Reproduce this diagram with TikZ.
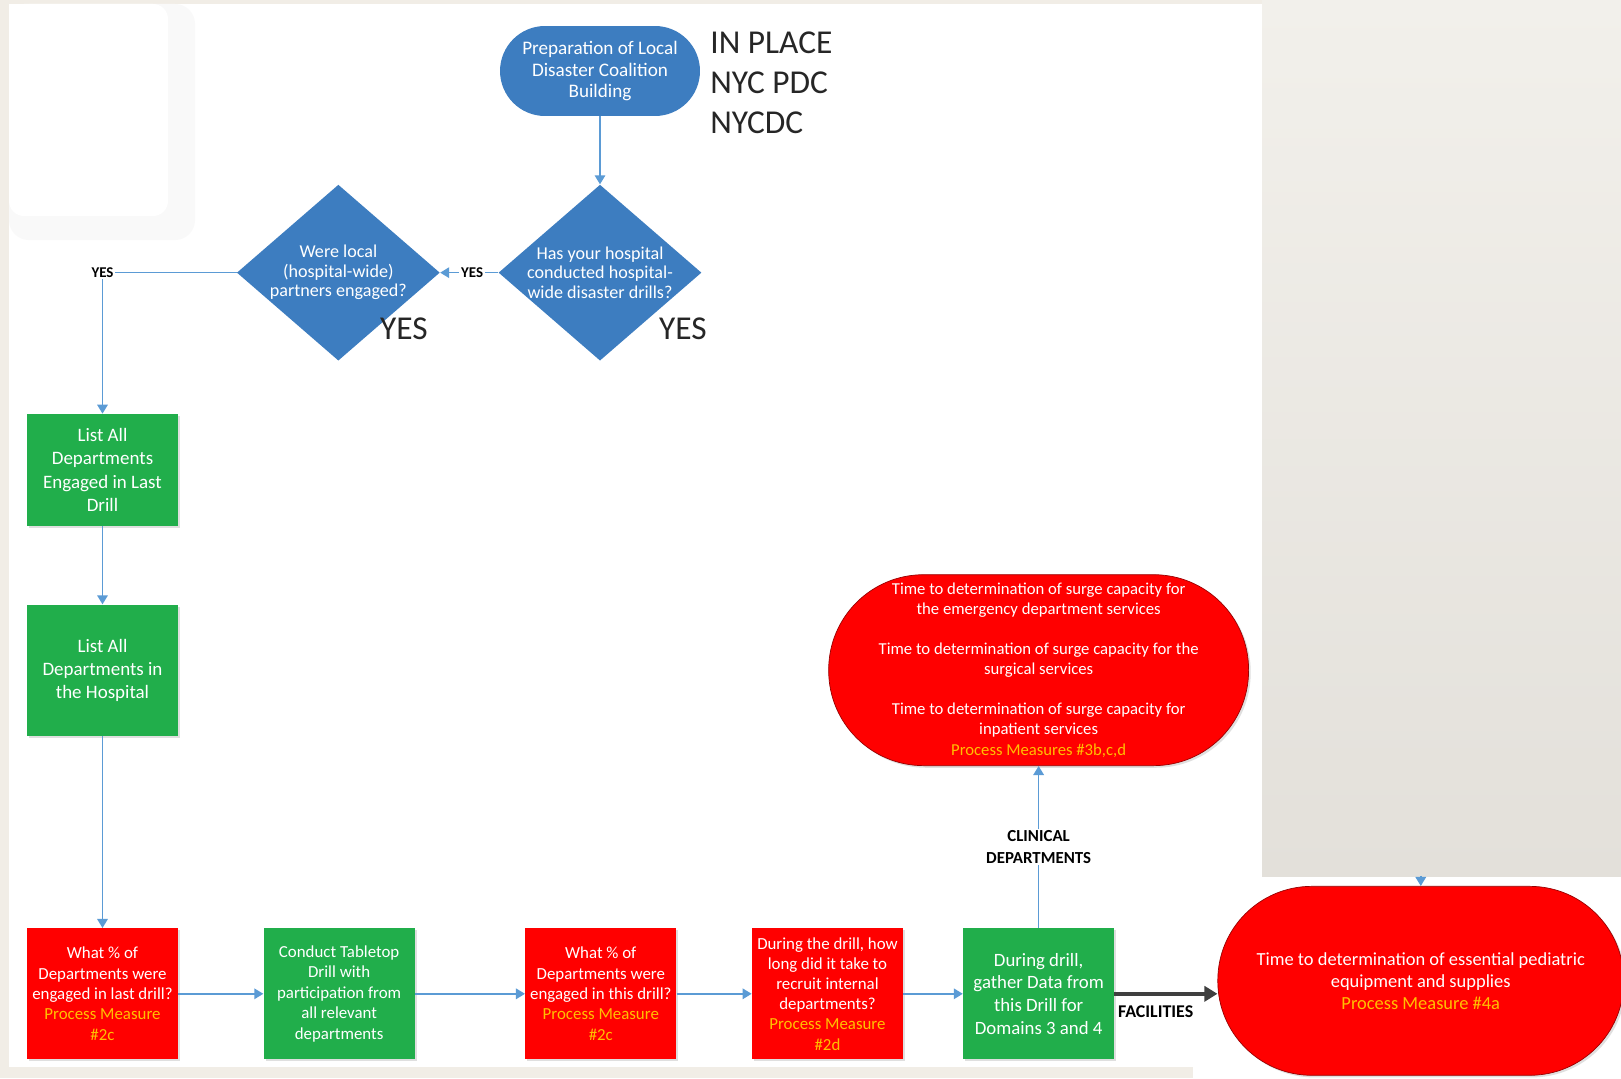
\documentclass[tikz,border=0pt]{standalone}
\usepackage{fontspec}
\setmainfont{Carlito}
\usepackage{xcolor}
\usetikzlibrary{arrows.meta,positioning,shapes.geometric,shadows}
\definecolor{pagebg}{HTML}{F1EDE6}
\definecolor{sidetop}{HTML}{F2F0EB}
\definecolor{sidebottom}{HTML}{E3E0DA}
\definecolor{hospblue}{HTML}{3D7DC0}
\definecolor{flowblue}{HTML}{5B9BD5}
\definecolor{drillgreen}{HTML}{21AE4B}
\definecolor{alertred}{HTML}{FF0000}
\definecolor{measureyellow}{HTML}{FFC000}
\definecolor{facgray}{HTML}{3F3F3F}
\newcommand{\setfs}[2]{\fontsize{#1}{#2}\selectfont}
\newcommand{\measure}[1]{\textcolor{measureyellow}{#1}}
\tikzset{
    boxshadow/.style={drop shadow={shadow xshift=1.2pt, shadow yshift=-1.2pt, opacity=0.25}},
    gbox/.style={rectangle, fill=drillgreen, text=white, minimum width=3.02cm,
        minimum height=2.62cm, align=center, inner sep=1pt, boxshadow},
    rbox/.style={gbox, fill=alertred},
    startpill/.style={rectangle, rounded corners=0.9cm, fill=hospblue, text=white,
        align=center, minimum width=4cm, minimum height=1.8cm, font=\setfs{10.9}{12.5}},
    quest/.style={diamond, fill=hospblue, minimum width=4.06cm, minimum height=3.52cm, inner sep=0pt},
    qtext/.style={text=white, align=center, font=\setfs{10.3}{11.1}},
    pill/.style={rectangle, rounded corners=#1, fill=alertred, draw=red!60!black,
        text=white, align=center, boxshadow},
    flow/.style={-{Triangle[length=1.8mm, width=2.1mm]}, draw=flowblue, line width=0.9pt},
    facflow/.style={-{Triangle[length=2.6mm, width=3mm]}, draw=facgray, line width=2.6pt},
    yeslbl/.style={font=\bfseries\setfs{8.5}{10}, fill=white, inner sep=1pt},
    bigtxt/.style={font=\setfs{19}{23}, text=black!85, inner sep=0pt},
    sidelbl/.style={font=\bfseries\setfs{9.6}{12.3}, align=center}
}
\begin{document}
\begin{tikzpicture}[x=0.02cm, y=-0.02cm]
    % slide background
    \useasboundingbox (0,0) rectangle (1621,1078);
    \fill[pagebg] (0,0) rectangle (1621,1078);
    \shade[top color=sidetop, bottom color=sidebottom] (1262,0) rectangle (1621,877);
    \fill[white] (9,4) rectangle (1262,1067);
    \fill[white] (1193,877) rectangle (1621,1078);
    \fill[black!2.5, rounded corners=0.4cm] (9,4) rectangle (195,240);
    \fill[white, rounded corners=0.3cm] (9,4) rectangle (168,216);

    \node[startpill] (prep) at (600,71) {Preparation of Local\\Disaster Coalition\\Building};
    \node[quest, below=1.36cm of prep,
        label={[qtext]center:{Has your hospital\\conducted hospital-\\wide disaster drills?}}] (drills) {};
    \node[quest, left=1.16cm of drills,
        label={[qtext]center:{Were local\\(hospital-wide)\\partners engaged?}}] (partners) {};
    \node[bigtxt, anchor=north west, align=left] (status) at (710,31) {IN PLACE\\NYC PDC\\NYCDC};
    \node[bigtxt] (yesleft) at (404,329) {YES};
    \node[bigtxt] (yesright) at (683,329) {YES};

    \node[gbox, minimum height=2.24cm, font=\setfs{10.8}{13.2}] (lastdrill) at (102.5,470)
        {List All\\Departments\\Engaged in Last\\Drill};
    \node[gbox, below=1.56cm of lastdrill, font=\setfs{10.8}{13.2}] (alldepts)
        {List All\\Departments in\\the Hospital};
    \node[rbox, below=3.84cm of alldepts, font=\setfs{9.6}{11.6}] (pctlast)
        {What \% of\\Departments were\\engaged in last drill?\\\measure{Process Measure}\\\measure{\#2c}};
    \node[gbox, right=1.7cm of pctlast, font=\setfs{9.6}{11.6}] (tabletop)
        {Conduct Tabletop\\Drill with\\participation from\\all relevant\\departments};
    \node[rbox, right=2.2cm of tabletop, font=\setfs{9.6}{11.6}] (pctthis)
        {What \% of\\Departments were\\engaged in this drill?\\\measure{Process Measure}\\\measure{\#2c}};
    \node[rbox, right=1.5cm of pctthis, font=\setfs{9.6}{11.5}] (recruit)
        {During the drill, how\\long did it take to\\recruit internal\\departments?\\\measure{Process Measure}\\\measure{\#2d}};
    \node[gbox, right=1.19cm of recruit, font=\setfs{10.7}{12.9}] (gather)
        {During drill,\\gather Data from\\this Drill for\\Domains 3 and 4};
    \node[pill=1.9cm, minimum width=8.4cm, minimum height=3.82cm, above=3.24cm of gather,
        font=\setfs{9.5}{11.8}] (surge)
        {Time to determination of surge capacity for\\the emergency department services\\[10.5pt]
         Time to determination of surge capacity for the\\surgical services\\[10.5pt]
         Time to determination of surge capacity for\\inpatient services\\
         \measure{Process Measures \#3b,c,d}};
    \node[pill=1.88cm, minimum width=8.12cm, minimum height=3.78cm, right=2.06cm of gather,
        yshift=0.26cm, font=\setfs{10.5}{12.6}] (pediatric)
        {Time to determination of essential pediatric\\equipment and supplies\\
         \measure{Process Measure \#4a}};
    \coordinate (stubtop) at ([yshift=0.2cm]pediatric.north);

    \draw[flow] (prep) -- (drills);
    \draw[flow] (drills) -- node[yeslbl, pos=0.45]{YES} (partners);
    \draw[flow] (partners.west) -- (partners.west -| lastdrill.north) node[yeslbl]{YES} -- (lastdrill.north);
    \draw[flow] (lastdrill) -- (alldepts);
    \draw[flow] (alldepts) -- (pctlast);
    \draw[flow] (pctlast) -- (tabletop);
    \draw[flow] (tabletop) -- (pctthis);
    \draw[flow] (pctthis) -- (recruit);
    \draw[flow] (recruit) -- (gather);
    \draw[flow] (gather) -- node[sidelbl, fill=white, inner sep=1pt]{CLINICAL\\DEPARTMENTS} (surge);
    \draw[facflow] (gather.east) -- node[sidelbl, below=2pt, pos=0.4, font=\bfseries\setfs{10.2}{12}]{FACILITIES}
        (gather.east -| pediatric.west);
    \draw[flow] (stubtop) -- (pediatric.north);
\end{tikzpicture}
\end{document}
